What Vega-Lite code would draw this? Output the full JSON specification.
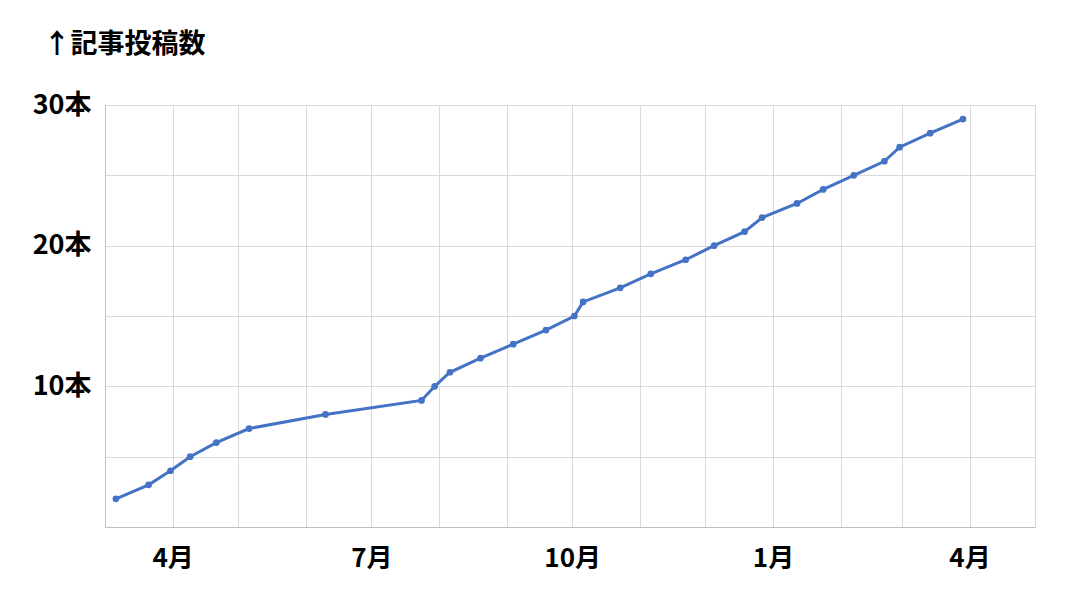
{
  "$schema": "https://vega.github.io/schema/vega-lite/v6.json",
  "autosize": {"type": "none"},
  "width": 930,
  "height": 422,
  "padding": {"left": 105, "top": 105, "right": 30, "bottom": 65},
  "background": "white",
  "config": {
    "view": {"stroke": "#d9d9d9", "strokeWidth": 1},
    "font": "Noto Sans CJK JP"
  },
  "data": {
    "values": [
      {"date": "2022-03-06", "count": 2},
      {"date": "2022-03-21", "count": 3},
      {"date": "2022-03-31", "count": 4},
      {"date": "2022-04-09", "count": 5},
      {"date": "2022-04-21", "count": 6},
      {"date": "2022-05-06", "count": 7},
      {"date": "2022-06-10", "count": 8},
      {"date": "2022-07-24", "count": 9},
      {"date": "2022-07-30", "count": 10},
      {"date": "2022-08-06", "count": 11},
      {"date": "2022-08-20", "count": 12},
      {"date": "2022-09-04", "count": 13},
      {"date": "2022-09-19", "count": 14},
      {"date": "2022-10-02", "count": 15},
      {"date": "2022-10-06", "count": 16},
      {"date": "2022-10-23", "count": 17},
      {"date": "2022-11-06", "count": 18},
      {"date": "2022-11-22", "count": 19},
      {"date": "2022-12-05", "count": 20},
      {"date": "2022-12-19", "count": 21},
      {"date": "2022-12-27", "count": 22},
      {"date": "2023-01-12", "count": 23},
      {"date": "2023-01-24", "count": 24},
      {"date": "2023-02-07", "count": 25},
      {"date": "2023-02-21", "count": 26},
      {"date": "2023-02-28", "count": 27},
      {"date": "2023-03-14", "count": 28},
      {"date": "2023-03-29", "count": 29}
    ]
  },
  "mark": {"type": "line", "color": "#4472C4", "strokeWidth": 3, "point": {"filled": true, "color": "#4472C4", "size": 45, "opacity": 1}},
  "encoding": {
    "x": {
      "field": "date",
      "type": "temporal",
      "scale": {"type": "utc", "domain": [{"year": 2022, "month": 3, "date": 1, "utc": true}, {"year": 2023, "month": 5, "date": 1, "utc": true}], "nice": false},
      "axis": {
        "title": null,
        "tickCount": {"interval": "month", "step": 1},
        "labelExpr": "utcmonth(datum.value) % 3 == 0 ? (utcmonth(datum.value) + 1) + '月' : ''",
        "labelOverlap": false,
        "labelFlush": false,
        "labelFont": "Noto Sans CJK JP",
        "labelFontWeight": "bold",
        "labelFontSize": 26,
        "labelColor": "#000000",
        "labelPadding": 18,
        "labelBaseline": "top",
        "ticks": false,
        "grid": true,
        "gridColor": "#d9d9d9",
        "gridWidth": 1,
        "domainColor": "#bfbfbf",
        "domainWidth": 1
      }
    },
    "y": {
      "field": "count",
      "type": "quantitative",
      "scale": {"domain": [0, 30], "nice": false, "zero": true},
      "axis": {
        "title": "↑記事投稿数",
        "titleAngle": 0,
        "titleX": -62,
        "titleY": -61,
        "titleAlign": "left",
        "titleBaseline": "middle",
        "titleFont": "Noto Sans CJK JP",
        "titleFontWeight": "bold",
        "titleFontSize": 27,
        "titleColor": "#000000",
        "values": [0, 5, 10, 15, 20, 25, 30],
        "labelExpr": "datum.value % 10 == 0 && datum.value > 0 ? datum.value + '本' : ''",
        "labelOverlap": false,
        "labelFlush": false,
        "labelFont": "Noto Sans CJK JP",
        "labelFontWeight": "bold",
        "labelFontSize": 27,
        "labelColor": "#000000",
        "labelPadding": 14,
        "ticks": false,
        "grid": true,
        "gridColor": "#d9d9d9",
        "gridWidth": 1,
        "domainColor": "#bfbfbf",
        "domainWidth": 1
      }
    }
  }
}
